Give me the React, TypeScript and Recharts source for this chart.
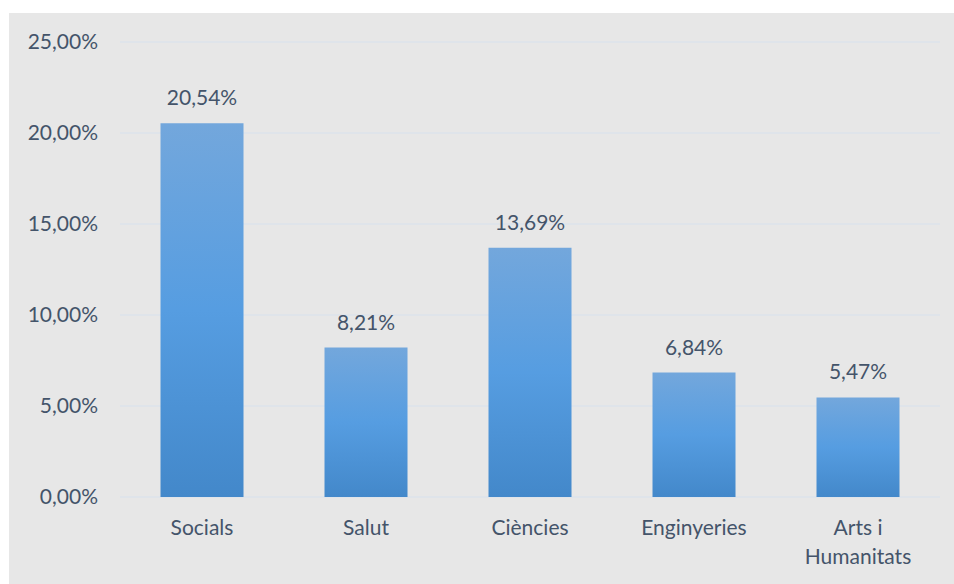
import { BarChart, Bar, XAxis, YAxis, CartesianGrid, LabelList } from 'recharts'

const categories = ['Socials', 'Salut', 'Ciències', 'Enginyeries', 'Arts i Humanitats']
const shares = [20.54, 8.21, 13.69, 6.84, 5.47]
const yTicks = [0, 5, 10, 15, 20, 25]

const data = categories.map((name, i) => ({ name, value: shares[i] }))

const INK = '#44546a'
const FONT = 'Lato, "Open Sans", sans-serif'

const fmt = (v: number, digits = 2) => v.toFixed(digits).replace('.', ',') + '%'

// greedy word wrap, like Excel does for long category names
function wrap(s: string, max = 11) {
  const lines: string[] = []
  let cur = ''
  for (const w of s.split(' ')) {
    const next = cur ? cur + ' ' + w : w
    if (next.length > max && cur) {
      lines.push(cur)
      cur = w
    } else cur = next
  }
  if (cur) lines.push(cur)
  return lines
}

function CategoryTick({ x, y, payload }: any) {
  const lines = wrap(String(payload.value))
  return (
    <text x={x} y={y} textAnchor="middle" fill={INK} fontSize={21} fontFamily={FONT}>
      {lines.map((l, i) => (
        <tspan key={i} x={x} dy={i === 0 ? '0.71em' : 29}>{l}</tspan>
      ))}
    </text>
  )
}

export default function App() {
  return (
    <div style={{ position: 'absolute', left: 9, top: 13, width: 945, height: 571, background: '#e7e7e7' }}>
      <BarChart
        width={945}
        height={571}
        data={data}
        margin={{ top: 29, right: 14, bottom: 0, left: 0 }}
        barCategoryGap="24.7%"
      >
        <defs>
          <linearGradient id="barFill" x1="0" y1="0" x2="0" y2="1">
            <stop offset="0%" stopColor="#73a7dc" />
            <stop offset="50%" stopColor="#569de1" />
            <stop offset="100%" stopColor="#4388ca" />
          </linearGradient>
        </defs>
        <CartesianGrid vertical={false} stroke="#dde3eb" strokeWidth={1.5} />
        <XAxis
          dataKey="name"
          height={87}
          axisLine={false}
          tickLine={false}
          tickSize={0}
          tickMargin={23}
          interval={0}
          tick={<CategoryTick />}
        />
        <YAxis
          domain={[0, 25]}
          ticks={yTicks}
          width={111}
          axisLine={false}
          tickLine={false}
          tickSize={0}
          tickMargin={22}
          tickFormatter={(v: number) => fmt(v)}
          tick={{ fill: INK, fontSize: 21, fontFamily: FONT }}
        />
        <Bar dataKey="value" fill="url(#barFill)" isAnimationActive={false}>
          <LabelList
            dataKey="value"
            position="top"
            offset={18}
            formatter={(v: any) => fmt(Number(v))}
            fill={INK}
            fontSize={21}
            fontFamily={FONT}
          />
        </Bar>
      </BarChart>
    </div>
  )
}
